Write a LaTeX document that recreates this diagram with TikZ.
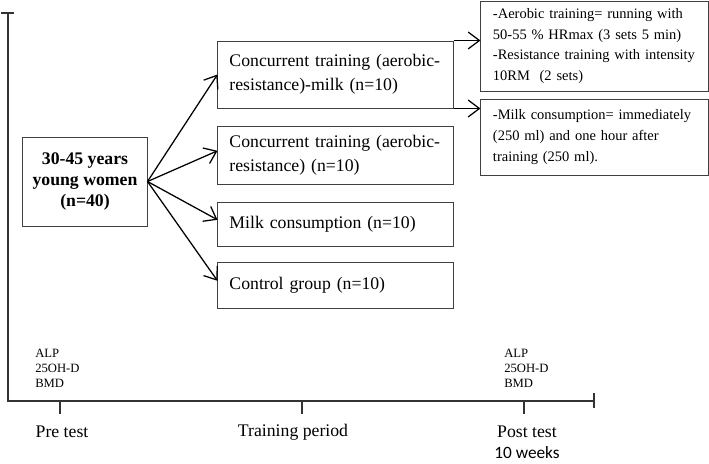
\documentclass[tikz,border=0pt]{standalone}
\usepackage{fontspec}
\setmainfont{Liberation Serif}
\newfontfamily\weeksfont{Carlito}
\usetikzlibrary{arrows.meta}

\tikzset{
  grpbox/.style={draw=black!75, line width=0.7pt, align=left, text width=5.3cm, inner xsep=0.2875cm, font=\fontsize{12.6}{17}\selectfont},
  infobox/.style={draw=black!75, line width=0.7pt, align=left, text width=5.075cm, inner xsep=0.3cm, font=\fontsize{10.3}{14.9}\selectfont},
  arr/.style={-{Straight Barb[length=8pt,width=12pt]}, line width=0.9pt},
  axis/.style={black!80, line width=0.8pt},
  timelbl/.style={font=\fontsize{12.6}{15}\selectfont},
  measure/.style={align=left, inner sep=0pt, anchor=west, font=\fontsize{9}{10.7}\selectfont},
}

\begin{document}
\begin{tikzpicture}[x=0.025cm, y=-0.025cm]
  \useasboundingbox (0,0) rectangle (709,463);
  % Nodes
  \node[draw=black!75, line width=0.7pt, minimum width=3.1cm, minimum height=2.225cm, align=center, font=\bfseries\fontsize{12.6}{15}\selectfont] (women) at (85,181.5) {30-45 years\\young women\\(n=40)};
  \node[grpbox, minimum height=1.675cm] (cm) at (335.5,74.5) {Concurrent training (aerobic-\\resistance)-milk (n=10)};
  \node[grpbox, minimum height=1.45cm] (ct) at (335.5,155) {Concurrent training (aerobic-\\resistance) (n=10)};
  \node[grpbox, minimum height=1.1cm] (milk) at (335.5,224) {Milk consumption (n=10)};
  \node[grpbox, minimum height=1.15cm] (ctrl) at (335.5,285) {Control group (n=10)};
  \node[infobox, minimum height=2.25cm] (prog) at (594.5,46) {-Aerobic training= running with\\50-55 \% HRmax (3 sets 5 min)\\-Resistance training with intensity\\10RM~ (2 sets)};
  \node[infobox, minimum height=1.9cm] (dose) at (594.5,137) {-Milk consumption= immediately\\(250 ml) and one hour after\\training (250 ml).};
  % Time line
  \coordinate (top) at (8,13);
  \coordinate (orig) at (8,401);
  \coordinate (axend) at (594,401);
  \coordinate (pre) at (60,401);
  \coordinate (mid) at (302,401);
  \coordinate (post) at (524,401);
  \draw[axis] (top) -- (orig) -- (axend);
  \draw[axis] (1,13) -- (14,13);
  \draw[axis] (594,393) -- (594,408);
  \draw[axis] (pre) -- ++(0,13);
  \draw[axis] (mid) -- ++(0,13);
  \draw[axis] (post) -- ++(0,13);
  \node[measure] (premeas) at (35,368) {ALP\\25OH-D\\BMD};
  \node[measure] (postmeas) at (504,368) {ALP\\25OH-D\\BMD};
  \node[timelbl] (pretxt) at (62,432) {Pre test};
  \node[timelbl] (traintxt) at (293,432) {Training period};
  \node[timelbl] (posttxt) at (527,432) {Post test};
  \node[inner sep=0pt, font=\weeksfont\fontsize{12.3}{14}\selectfont] (weeks) at (527,453) {10 weeks};
  % Edges
  \draw[arr] (women.east) -- (cm.west);
  \draw[arr] (women.east) -- ([yshift=3pt]ct.west);
  \draw[arr] (women.east) -- ([yshift=3pt]milk.west);
  \draw[arr] (women.east) -- ([yshift=3pt]ctrl.west);
  \draw[arr] (cm.north east) -- (cm.north east -| prog.west);
  \draw[arr] (cm.south east) -- (cm.south east -| dose.west);
\end{tikzpicture}
\end{document}
